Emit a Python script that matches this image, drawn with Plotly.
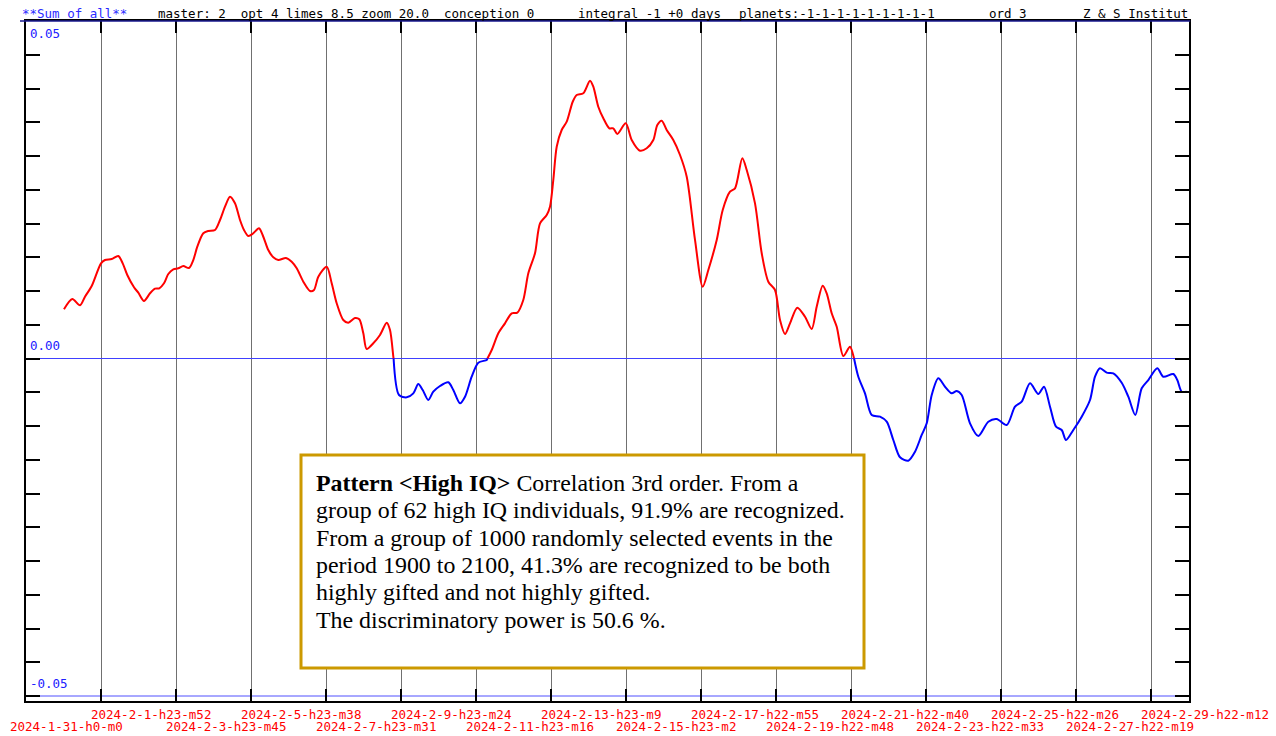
import plotly.graph_objects as go

# ---------------- data ----------------
days = [1.013, 1.235, 1.44, 1.573, 1.752, 2.0, 2.107, 2.285, 2.461, 2.579, 2.701, 2.88, 2.995,
        3.147, 3.307, 3.44, 3.555, 3.68, 3.795, 3.928, 4.061, 4.195, 4.347, 4.461, 4.568, 4.728,
        4.861, 5.04, 5.173, 5.307, 5.44, 5.573, 5.707, 5.813, 5.928, 6.061, 6.213, 6.328, 6.461,
        6.595, 6.728, 6.933, 7.085, 7.219, 7.395, 7.573, 7.68, 7.795, 8.019, 8.152, 8.285, 8.461,
        8.595, 8.773, 8.888, 8.995, 9.085, 9.261, 9.44, 9.619, 9.707, 9.795, 9.947, 10.152, 10.328,
        10.461, 10.579, 10.728, 10.861, 11.04, 11.261, 11.395, 11.573, 11.707, 11.885, 12.061,
        12.285, 12.419, 12.595, 12.773, 12.952, 13.101, 13.261, 13.395, 13.573, 13.707, 13.885,
        13.973, 14.061, 14.152, 14.285, 14.419, 14.579, 14.685, 14.861, 15.04, 15.128, 15.261,
        15.395, 15.555, 15.661, 15.768, 15.992, 16.152, 16.373, 16.552, 16.728, 16.835, 16.952,
        17.085, 17.261, 17.44, 17.619, 17.84, 18.045, 18.195, 18.419, 18.579, 18.773, 18.907,
        19.101, 19.219, 19.44, 19.619, 19.795, 19.973, 20.107, 20.24, 20.373, 20.568, 20.773,
        20.952, 21.085, 21.245, 21.352, 21.485, 21.619, 21.795, 21.973, 22.08, 22.195, 22.373,
        22.552, 22.773, 22.952, 23.128, 23.307, 23.528, 23.707, 23.885, 24.019, 24.152, 24.328,
        24.507, 24.685, 24.819, 24.952, 25.173, 25.395, 25.661, 25.885, 26.152, 26.373, 26.552,
        26.773, 26.995, 27.147, 27.307, 27.467, 27.619, 27.733, 27.928, 28.152, 28.373, 28.507,
        28.64, 28.819, 28.995, 29.219, 29.395, 29.581, 29.752, 29.928, 30.168, 30.328, 30.595,
        30.701, 30.819, 30.952]

values = [0.00729, 0.00881, 0.00788, 0.00916, 0.01074, 0.0141, 0.01459, 0.01474, 0.01519, 0.0141,
          0.01237, 0.01055, 0.00975, 0.00852, 0.00966, 0.01034, 0.0104, 0.01114, 0.01252, 0.01321,
          0.01336, 0.0137, 0.01341, 0.01459, 0.01656, 0.01855, 0.01889, 0.01904, 0.02052, 0.02249,
          0.02397, 0.02299, 0.02052, 0.01904, 0.01815, 0.01855, 0.01929, 0.01804, 0.01607, 0.01499,
          0.01459, 0.01489, 0.01434, 0.01336, 0.01138, 0.01, 0.01015, 0.01212, 0.0136, 0.01114,
          0.00818, 0.0057, 0.0053, 0.006, 0.00581, 0.00373, 0.00141, 0.00225, 0.00348, 0.0053,
          0.00422, 0.00027, -0.00541, -0.00575, -0.00516, -0.00378, -0.00467, -0.00615, -0.00492,
          -0.00407, -0.00353, -0.00467, -0.00664, -0.00566, -0.0027, -0.00062, -0.00022, 0.00126,
          0.00373, 0.00521, 0.0067, 0.00679, 0.00867, 0.01262, 0.01559, 0.02003, 0.02126, 0.02249,
          0.02644, 0.03138, 0.03385, 0.03508, 0.03804, 0.03904, 0.03929, 0.04116, 0.04027, 0.0373,
          0.03559, 0.0341, 0.0341, 0.03326, 0.03484, 0.03237, 0.03079, 0.03114, 0.03237, 0.03459,
          0.03523, 0.03385, 0.03237, 0.03015, 0.02693, 0.01756, 0.01064, 0.01311, 0.01756, 0.022,
          0.02471, 0.02521, 0.02966, 0.02793, 0.02299, 0.01559, 0.01138, 0.01015, 0.0057, 0.00363,
          0.00521, 0.00753, 0.00619, 0.00437, 0.00767, 0.01079, 0.00966, 0.0067, 0.00471, 0.00037,
          0.00175, 0.00003, -0.0027, -0.00516, -0.00837, -0.00862, -0.00936, -0.01207, -0.01464,
          -0.01514, -0.01381, -0.01133, -0.0096, -0.00541, -0.00293, -0.00418, -0.00516, -0.00481,
          -0.00541, -0.0096, -0.01148, -0.00936, -0.00896, -0.00985, -0.00714, -0.0064, -0.00367,
          -0.00526, -0.00418, -0.00714, -0.0101, -0.01059, -0.01207, -0.01059, -0.00862, -0.00615,
          -0.0027, -0.00145, -0.0021, -0.00219, -0.00359, -0.00566, -0.00837, -0.00441, -0.00319,
          -0.00145, -0.0027, -0.0023, -0.00319, -0.00492, -0.00492]

tick_days = [0, 2, 4, 6, 8, 10, 12, 14, 16, 18, 20, 22, 24, 26, 28, 30]
tick_labels = ["2024-1-31-h0-m0", "2024-2-1-h23-m52", "2024-2-3-h23-m45", "2024-2-5-h23-m38",
               "2024-2-7-h23-m31", "2024-2-9-h23-m24", "2024-2-11-h23-m16", "2024-2-13-h23-m9",
               "2024-2-15-h23-m2", "2024-2-17-h22-m55", "2024-2-19-h22-m48", "2024-2-21-h22-m40",
               "2024-2-23-h22-m33", "2024-2-25-h22-m26", "2024-2-27-h22-m19", "2024-2-29-h22-m12"]

y_labels = [0.05, 0.0, -0.05]
y_label_text = ["0.05", "0.00", "-0.05"]

header_items = [("**Sum of all**", "#2a2aff"),
                ("master: 2  opt 4 limes 8.5 zoom 20.0  conception 0", "black"),
                ("integral -1 +0 days", "black"),
                ("planets:-1-1-1-1-1-1-1-1-1", "black"),
                ("ord 3", "black"),
                ("Z & S Institut", "black")]
header_pos = [20, 156, 576, 737, 987, 1081]

box_lines = ["<b>Pattern &lt;High IQ&gt;</b> Correlation 3rd order. From a",
             "group of 62 high IQ individuals, 91.9% are recognized.",
             "From a group of 1000 randomly selected events in the",
             "period 1900 to 2100, 41.3% are recognized to be both",
             "highly gifted and not highly gifted.",
             "The discriminatory power is 50.6 %."]

X_MAX = 31.013
Y_MIN, Y_MAX = -0.05074, 0.05

W, H = 1276, 736
PL, PT, PW, PH = 26, 21, 1163, 680   # plot area in page pixels


def split(xs, ys, positive):
    ox, oy = [], []
    for i in range(len(xs)):
        x, y = xs[i], ys[i]
        inside = (y >= 0) if positive else (y < 0)
        if i > 0:
            x0, y0 = xs[i - 1], ys[i - 1]
            if (y0 >= 0) != (y >= 0):
                xc = x0 + (0 - y0) * (x - x0) / (y - y0)
                ox.append(xc); oy.append(0.0)
                if not inside:
                    ox.append(None); oy.append(None)
        if inside:
            ox.append(x); oy.append(y)
    return ox, oy


rx, ry = split(days, values, True)
bx, by = split(days, values, False)

fig = go.Figure()
fig.add_trace(go.Scatter(x=rx, y=ry, mode="lines",
                         line=dict(color="#ff0000", width=2, shape="spline", smoothing=0.8),
                         connectgaps=False, hoverinfo="skip", showlegend=False))
fig.add_trace(go.Scatter(x=bx, y=by, mode="lines",
                         line=dict(color="#0000ff", width=2, shape="spline", smoothing=0.8),
                         connectgaps=False, hoverinfo="skip", showlegend=False))

mono = "DejaVu Sans Mono"
annotations = []
for (txt, col), px in zip(header_items, header_pos):
    annotations.append(dict(text=txt, xref="paper", yref="paper", x=0, y=1, xshift=px - PL, yshift=8,
                            xanchor="left", yanchor="middle", showarrow=False,
                            font=dict(family=mono, size=12.5, color=col)))
for i, (d, lab) in enumerate(zip(tick_days, tick_labels)):
    row_shift = -25 if i % 2 == 0 else -13
    xs = -18 if i == 0 else -12
    annotations.append(dict(text=lab, xref="x", yref="paper", x=d, y=0, xshift=xs, yshift=row_shift,
                            xanchor="left", yanchor="middle", showarrow=False,
                            font=dict(family=mono, size=12.5, color="#ff0000")))
y_shifts = [-12, 13, 13]
for v, t, s in zip(y_labels, y_label_text, y_shifts):
    annotations.append(dict(text=t, xref="paper", yref="y", x=0, y=v, xshift=2, yshift=s,
                            xanchor="left", yanchor="middle", showarrow=False,
                            font=dict(family=mono, size=12.5, color="#2020ff")))
line_centers = [483, 510, 538, 565, 592, 620]
for t, cy in zip(box_lines, line_centers):
    annotations.append(dict(text=t, xref="paper", yref="paper", x=0, y=1,
                            xshift=314 - PL, yshift=PT - cy, xanchor="left", yanchor="middle",
                            showarrow=False,
                            font=dict(family="Liberation Serif", size=23.9, color="black")))

shapes = [
    dict(type="rect", xref="paper", yref="paper", x0=(301 - PL) / PW, x1=(864 - PL) / PW,
         y0=(PT + PH - 668) / PH, y1=(PT + PH - 455) / PH, line=dict(color="#cc9900", width=3),
         fillcolor="white", layer="above"),
    dict(type="line", xref="paper", yref="y", x0=0, x1=1, y0=-0.05, y1=-0.05,
         line=dict(color="#5050ff", width=1), layer="below"),
    dict(type="line", xref="paper", yref="paper", x0=-6 / PW, x1=1.001, y0=1, y1=1,
         line=dict(color="#1a1a90", width=1.5), layer="above"),
]

fig.update_layout(
    width=W, height=H,
    margin=dict(l=PL, r=W - PL - PW, t=PT, b=H - PT - PH),
    paper_bgcolor="white", plot_bgcolor="white",
    showlegend=False,
    annotations=annotations,
    shapes=shapes,
    xaxis=dict(range=[0, X_MAX], tick0=0, dtick=2, showgrid=True, gridcolor="#707070", gridwidth=1,
               ticks="inside", ticklen=12, tickwidth=2, tickcolor="black", mirror="ticks",
               showline=True, linecolor="black", linewidth=2, zeroline=False, showticklabels=False,
               fixedrange=True),
    yaxis=dict(range=[Y_MIN, Y_MAX], tick0=-0.05, dtick=0.005, showgrid=False,
               ticks="inside", ticklen=14, tickwidth=2, tickcolor="black", mirror="ticks",
               showline=True, linecolor="black", linewidth=2, zeroline=True,
               zerolinecolor="#4040ff", zerolinewidth=1, showticklabels=False, fixedrange=True),
)

fig.write_html("out.html", config={"displayModeBar": False},
               post_script="document.body.style.margin='0px';document.body.style.overflow='hidden';")
